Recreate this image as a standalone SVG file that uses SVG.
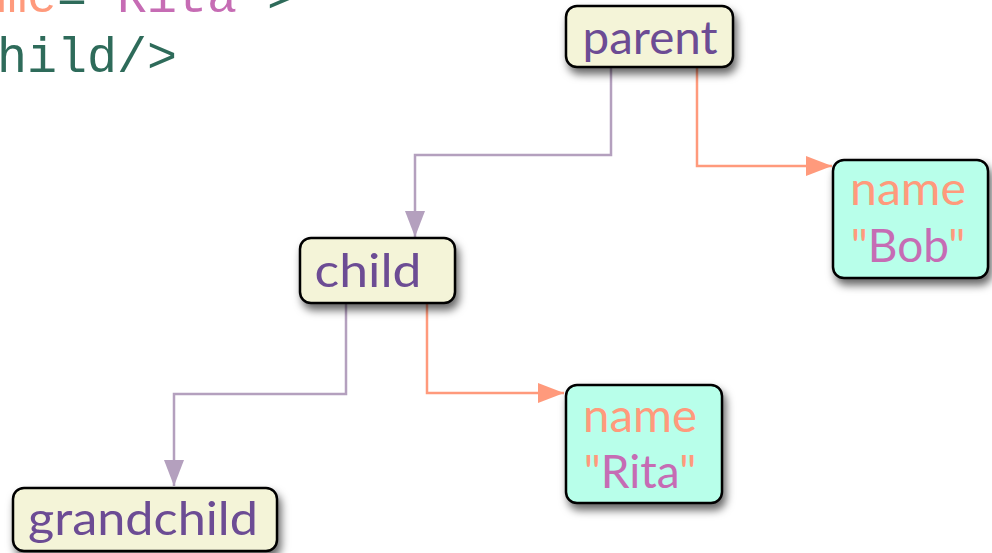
<svg xmlns="http://www.w3.org/2000/svg" width="992" height="553" viewBox="0 0 992 553">
  <style>
    .code { font-family: "Liberation Mono", "DejaVu Sans Mono", monospace; font-size: 50px; }
    .c-attr { fill: #FF9A7C; }
    .c-val { fill: #C66CB4; }
    .c-tag { fill: #2E6B5A; }
    .box { stroke: #000; stroke-width: 2.5; filter: url(#shadow); }
    .elem { fill: #F4F4D8; }
    .attr { fill: #B8FFEA; }
    .label { font-family: Lato, "Open Sans", "Noto Sans", sans-serif; font-size: 46px; text-anchor: middle; }
    .t-elem { fill: #6C4C94; }
    .t-name { fill: #FF9A7C; }
    .t-val { fill: #C66CB4; }
    .edge { fill: none; stroke-width: 2.5; }
    .child-edge { stroke: #B4A0BE; marker-end: url(#arrow-purple); }
    .attr-edge { stroke: #FF9A7C; marker-end: url(#arrow-salmon); }
  </style>
  <defs>
    <filter id="shadow" x="-20%" y="-20%" width="150%" height="160%">
      <feDropShadow dx="3" dy="6" stdDeviation="4.5" flood-color="#000" flood-opacity="0.6"/>
    </filter>
    <marker id="arrow-purple" markerUnits="userSpaceOnUse" markerWidth="26" markerHeight="20" refX="26" refY="10" orient="auto">
      <path d="M0,0 L26,10 L0,20 Z" fill="#B4A0BE"/>
    </marker>
    <marker id="arrow-salmon" markerUnits="userSpaceOnUse" markerWidth="26" markerHeight="20" refX="26" refY="10" orient="auto">
      <path d="M0,0 L26,10 L0,20 Z" fill="#FF9A7C"/>
    </marker>
  </defs>

  <!-- XML source fragment -->
  <g id="source">
    <text class="code" x="-3" y="12"><tspan class="c-attr">me</tspan><tspan class="c-tag">=</tspan><tspan class="c-val">"Rita"</tspan><tspan class="c-tag">&gt;</tspan></text>
    <text class="code c-tag" x="-3" y="72">hild/&gt;</text>
  </g>

  <!-- connectors -->
  <g id="connectors">
    <path class="edge child-edge" d="M611,67 V155 H415 V237"/>
    <path class="edge attr-edge" d="M697,67 V166 H832"/>
    <path class="edge child-edge" d="M346,303 V394 H174 V486"/>
    <path class="edge attr-edge" d="M427,303 V393 H564"/>
  </g>

  <g id="parent">
    <rect class="box elem" x="566" y="6" width="167" height="61" rx="11"/>
    <text class="label t-elem" x="650" y="54" textLength="135" lengthAdjust="spacingAndGlyphs">parent</text>
  </g>

  <g id="parent-name">
    <rect class="box attr" x="833" y="160" width="155" height="118" rx="11"/>
    <text class="label t-name" x="908" y="205" textLength="116" lengthAdjust="spacingAndGlyphs">name</text>
    <text class="label" x="908" y="262"><tspan class="t-name">"</tspan><tspan class="t-val">Bob</tspan><tspan class="t-name">"</tspan></text>
  </g>

  <g id="child">
    <rect class="box elem" x="300" y="238" width="155" height="65" rx="11"/>
    <text class="label t-elem" x="368" y="287" textLength="107" lengthAdjust="spacingAndGlyphs">child</text>
  </g>

  <g id="child-name">
    <rect class="box attr" x="566" y="385" width="156" height="118" rx="11"/>
    <text class="label t-name" x="640" y="432" textLength="114" lengthAdjust="spacingAndGlyphs">name</text>
    <text class="label" x="640" y="488"><tspan class="t-name">"</tspan><tspan class="t-val">Rita</tspan><tspan class="t-name">"</tspan></text>
  </g>

  <g id="grandchild">
    <rect class="box elem" x="13" y="488" width="264" height="63" rx="11"/>
    <text class="label t-elem" x="143" y="535" textLength="230" lengthAdjust="spacingAndGlyphs">grandchild</text>
  </g>
</svg>
